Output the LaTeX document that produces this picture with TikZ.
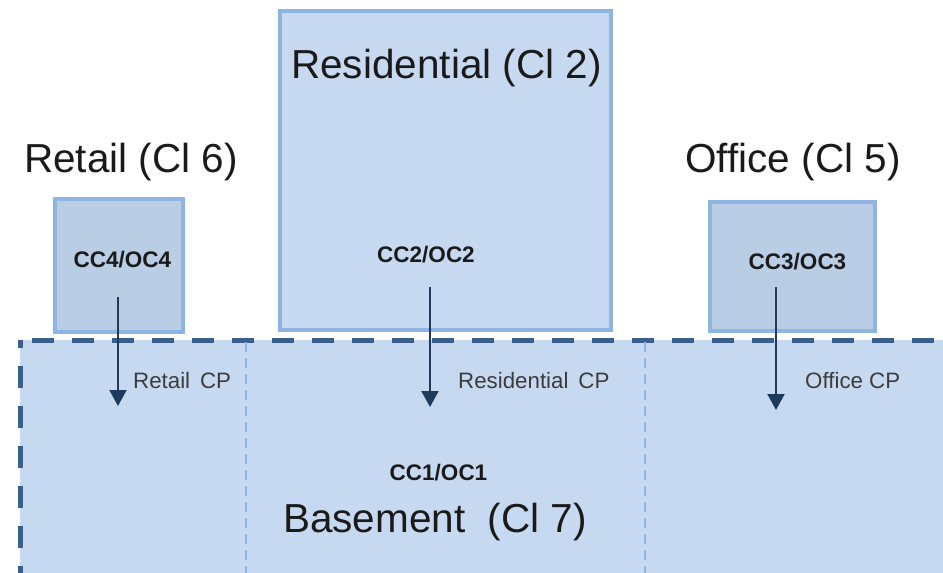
\documentclass[tikz,border=0pt]{standalone}
\usepackage{fontspec}
\setmainfont{Liberation Sans}
\usetikzlibrary{arrows.meta}
\definecolor{zonefill}{HTML}{C6D9F1}
\definecolor{unitfill}{HTML}{B9CDE5}
\definecolor{unitline}{HTML}{8EB4E3}
\definecolor{basedash}{HTML}{3A5F8C}
\definecolor{feedcol}{HTML}{1F3A5F}
\definecolor{inkcol}{HTML}{1A1A1A}
\tikzset{x=1pt, y=-1pt,
	tower box/.style={draw=unitline, line width=4pt, fill=zonefill,
		inner sep=0pt},
	unit box/.style={draw=unitline, line width=4pt, fill=unitfill,
		inner sep=0pt},
	base zone/.style={fill=zonefill, draw=basedash, line width=5pt,
		dash pattern=on 22pt off 18pt, dash phase=14pt},
	zone divider/.style={draw=unitline, line width=2.5pt,
		dash pattern=on 10pt off 6pt},
	zone label/.style={inner sep=0pt, text=inkcol,
		font=\fontsize{40.5}{44}\selectfont},
	code label/.style={inner sep=0pt, text=inkcol,
		font=\bfseries\fontsize{22.5}{24}\selectfont},
	cp label/.style={inner sep=0pt, text=inkcol!85,
		font=\fontsize{22.3}{24}\selectfont},
	feed arrow/.style={draw=feedcol, line width=2pt,
		-{Triangle[width=17pt,length=16pt]}}
}

\begin{document}
\begin{tikzpicture}
\useasboundingbox (0,0) rectangle (943,573);
\clip (0,0) rectangle (943,573);

% basement
\draw[base zone] (20,340) rectangle (980,610);
\draw[zone divider] (246,342) -- (246,573);
\draw[zone divider] (645,342) -- (645,573);

% towers
\node[tower box, minimum width=331pt, minimum height=319pt] (resid box) at (445.5,170.5) {};
\node[unit box, minimum width=128pt, minimum height=133pt] (retail box) at (119,265.5) {};
\node[unit box, minimum width=165pt, minimum height=129pt] (office box) at (792.5,266.5) {};

% titles
\node[zone label, anchor=base] (resid title) at (446.5,78) {Residential (Cl 2)};
\node[zone label, anchor=base] (retail title) at (131,172) {Retail (Cl 6)};
\node[zone label, anchor=base] (office title) at (793,172) {Office (Cl 5)};
\node[zone label, anchor=base] (base title) at (435,532) {Basement\ \ (Cl 7)};

% codes
\node[code label, anchor=base] (resid code) at (426,262) {CC2/OC2};
\node[code label, anchor=base] (retail code) at (122.5,267) {CC4/OC4};
\node[code label, anchor=base] (office code) at (797.5,269) {CC3/OC3};
\node[code label, anchor=base] (base code) at (438.5,480) {CC1/OC1};

% car parks
\node[cp label, anchor=base west] (retail cp) at (133,388) {Retail\ \,CP};
\node[cp label, anchor=base west] (resid cp) at (458,388) {Residential\ \,CP};
\node[cp label, anchor=base west] (office cp) at (805,388) {Office CP};

% feeds
\coordinate (retail top) at (118,297);
\coordinate (retail end) at (118,406);
\coordinate (resid top) at (430,287);
\coordinate (resid end) at (430,407);
\coordinate (office top) at (776,287);
\coordinate (office end) at (776,410);
\draw[feed arrow] (retail top) -- (retail end);
\draw[feed arrow] (resid top) -- (resid end);
\draw[feed arrow] (office top) -- (office end);

\end{tikzpicture}
\end{document}
